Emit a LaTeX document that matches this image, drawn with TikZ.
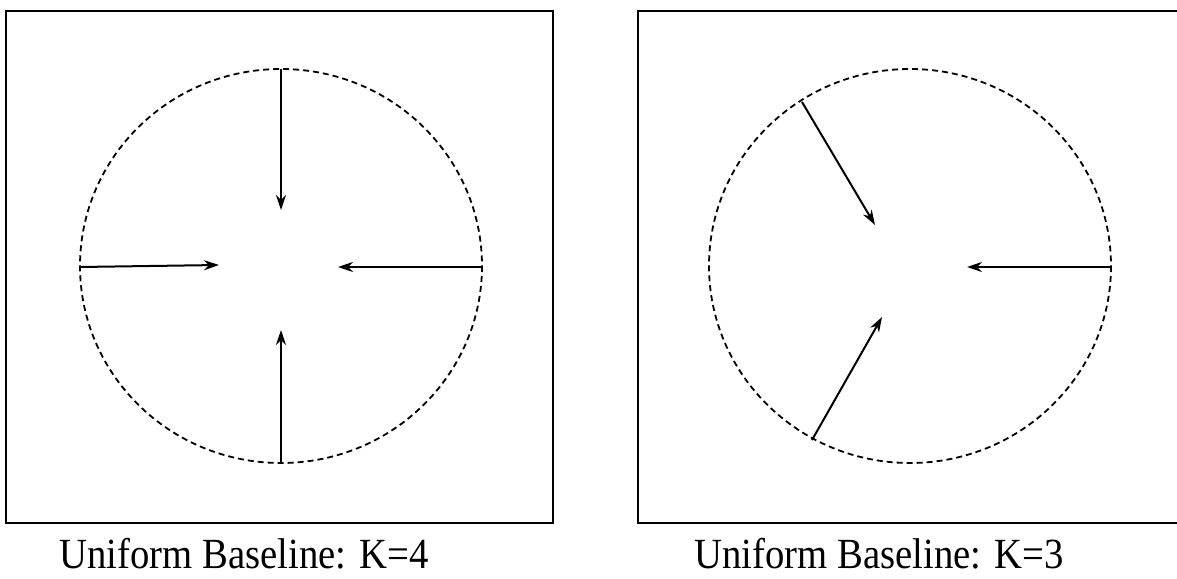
\documentclass[tikz,border=0pt]{standalone}
\usepackage{graphicx}
\usepackage{fontspec}
\setmainfont{Liberation Serif}
\usetikzlibrary{arrows.meta}
\newcommand{\captxt}[1]{\scalebox{0.9}[1]{#1}}
\begin{document}
\begin{tikzpicture}[x=1pt,y=-1pt,
  panel/.style={draw=black,line width=2.2pt},
  ring/.style={draw=black,line width=1.8pt,dash pattern=on 6pt off 4pt},
  ptr/.style={draw=black,line width=2pt,-{Stealth[length=15pt,width=10pt]}},
  captext/.style={font=\fontsize{43}{48}\selectfont,anchor=base,inner sep=0pt}]
\useasboundingbox (0,0) rectangle (1177,578);
% left panel
\draw[panel] (6,11) rectangle (553,523);
\draw[ring] (281,266) ellipse [x radius=201, y radius=197];
\coordinate (lt) at (281,69);  \coordinate (ltt) at (281,210);
\coordinate (lb) at (281,463); \coordinate (lbt) at (281,330);
\coordinate (ll) at (80,267);  \coordinate (llt) at (219,265);
\coordinate (lr) at (482,267); \coordinate (lrt) at (338,267);
\draw[ptr] (lt) -- (ltt);
\draw[ptr] (lb) -- (lbt);
\draw[ptr] (ll) -- (llt);
\draw[ptr] (lr) -- (lrt);
\node[captext] (capl) at (244,568) {\captxt{Uniform Baseline: K=4}};
% right panel
\draw[panel] (638,11) rectangle (1182,523);
\draw[ring] (910,266) ellipse [x radius=201, y radius=197];
\coordinate (ra) at (802,102);  \coordinate (rat) at (875,225);
\coordinate (rb) at (812,440);  \coordinate (rbt) at (882,317);
\coordinate (rc) at (1110,267); \coordinate (rct) at (967,267);
\draw[ptr] (ra) -- (rat);
\draw[ptr] (rb) -- (rbt);
\draw[ptr] (rc) -- (rct);
\node[captext] (capr) at (879,568) {\captxt{Uniform Baseline: K=3}};
\end{tikzpicture}
\end{document}
